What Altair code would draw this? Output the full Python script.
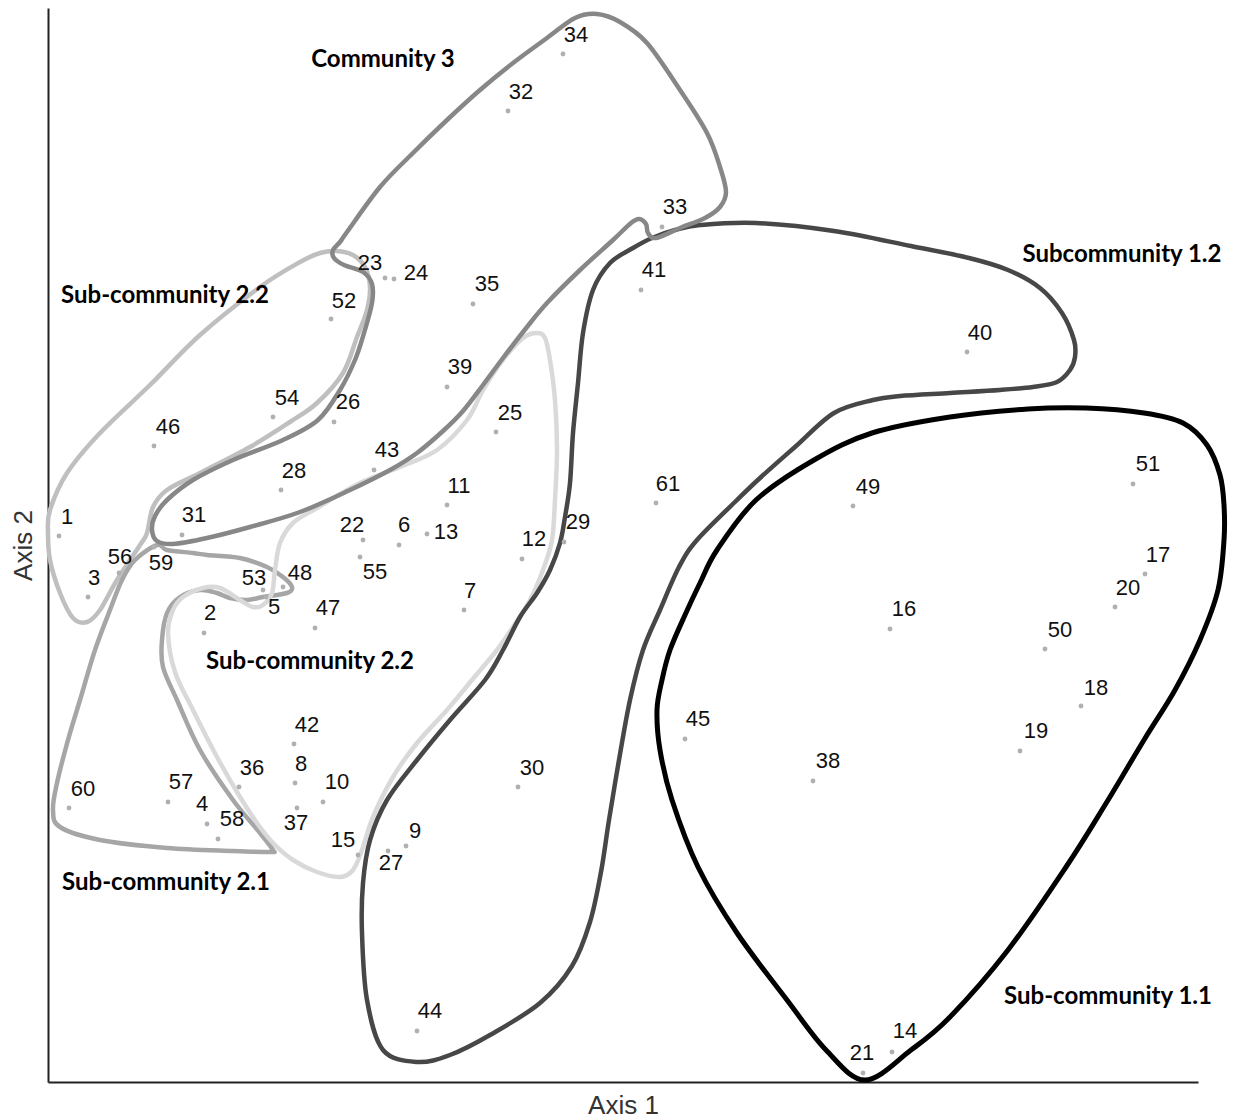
import altair as alt
import pandas as pd

# ---- sample points (positions, Axis 1 / Axis 2 units) ----
IDS = list(range(1, 62))
PX = [59, 204, 88, 207, 266, 399, 464, 295, 406, 323, 447, 522, 427, 892, 358, 890, 1145, 1081, 1020, 1115,
      863, 363, 385, 394, 496, 334, 388, 281, 564, 518, 182, 508, 662, 563, 473, 239, 297, 813, 447, 967,
      641, 294, 374, 417, 685, 154, 315, 283, 853, 1045, 1133, 331, 263, 273, 360, 119, 168, 218, 154, 69, 656]
PY = [536, 633, 597, 824, 597, 545, 610, 783, 846, 802, 505, 559, 534, 1052, 855, 629, 574, 706, 751, 607,
      1073, 540, 278, 279, 432, 422, 851, 490, 542, 787, 535, 111, 227, 54, 304, 787, 808, 781, 387, 352,
      290, 744, 470, 1031, 739, 446, 628, 587, 506, 649, 484, 319, 590, 417, 557, 573, 802, 839, 547, 808, 503]
# label anchor positions
LX = [67, 210, 94, 202, 274, 404, 470, 301, 415, 337, 459, 534, 446, 905, 343, 904, 1158, 1096, 1036, 1128,
      862, 352, 370, 416, 510, 348, 391, 294, 578, 532, 194, 521, 675, 576, 487, 252, 296, 828, 460, 980,
      654, 307, 387, 430, 698, 168, 328, 300, 868, 1060, 1148, 344, 254, 287, 375, 120, 181, 232, 161, 83, 668]
LY = [517, 613, 578, 804, 607, 525, 591, 764, 831, 782, 486, 539, 532, 1031, 840, 609, 555, 688, 731, 588,
      1053, 525, 263, 273, 413, 402, 863, 471, 522, 768, 515, 92, 207, 35, 284, 768, 823, 761, 367, 333,
      270, 725, 450, 1011, 719, 427, 608, 573, 487, 630, 464, 301, 578, 398, 572, 557, 782, 819, 563, 789, 484]

# ---- community outlines (vertices) ----
HULL_COMMUNITY_3 = [(340, 242), (347, 232), (380, 187), (413, 153), (447, 120), (480, 90), (513, 63), (547, 38),
    (575, 18), (597, 14), (620, 22), (647, 43), (680, 90), (707, 133), (720, 167), (726, 192), (720, 207),
    (705, 218), (680, 228), (656, 238), (648, 233), (646, 224), (639, 219), (631, 223), (613, 240), (580, 270),
    (547, 303), (527, 327), (503, 358), (483, 385), (463, 411), (443, 431), (417, 453), (390, 470), (350, 490),
    (300, 512), (250, 527), (207, 538), (173, 544), (157, 541), (152, 530), (155, 516), (167, 500), (193, 480),
    (233, 460), (283, 440), (318, 420), (340, 390), (355, 360), (364, 333), (372, 303), (372, 284), (363, 272),
    (344, 265), (334, 258), (333, 250)]
HULL_SUB_2_2_UPPER = [(150, 385), (200, 335), (260, 287), (300, 262), (320, 253), (337, 251), (353, 255),
    (365, 267), (370, 287), (367, 310), (357, 337), (343, 373), (317, 403), (290, 422), (250, 447), (200, 473),
    (167, 490), (153, 507), (147, 533), (140, 545), (117, 580), (100, 610), (87, 622), (73, 618), (60, 593),
    (50, 560), (48, 533), (50, 510), (67, 473), (100, 433)]
HULL_SUB_2_1 = [(157, 545), (167, 550), (193, 553), (207, 555), (240, 558), (267, 567), (283, 577), (292, 587),
    (287, 593), (263, 597), (247, 600), (230, 598), (217, 593), (200, 590), (180, 597), (167, 613), (162, 640),
    (163, 667), (177, 700), (200, 750), (233, 800), (260, 833), (273, 850), (270, 852), (233, 851), (167, 848),
    (100, 840), (60, 827), (53, 810), (57, 783), (68, 740), (80, 700), (95, 650), (110, 610), (122, 580),
    (135, 560)]
HULL_SUB_2_2_LOWER = [(537, 333), (545, 338), (550, 360), (555, 400), (557, 450), (555, 500), (552, 540),
    (543, 570), (530, 600), (513, 627), (497, 650), (472, 680), (447, 710), (417, 743), (393, 777), (373, 817),
    (362, 850), (353, 870), (340, 877), (317, 872), (293, 860), (273, 843), (257, 823), (240, 797), (217, 757),
    (193, 710), (175, 672), (168, 633), (173, 610), (183, 597), (203, 588), (220, 588), (240, 600), (253, 607),
    (263, 605), (272, 593), (275, 570), (280, 543), (293, 523), (317, 508), (360, 483), (400, 467), (437, 450),
    (467, 420), (483, 390), (503, 360), (523, 338)]
HULL_SUB_1_2 = [(633, 248), (652, 238), (675, 230), (700, 225), (756, 223), (834, 231), (911, 246), (969, 258),
    (1008, 270), (1040, 288), (1062, 313), (1074, 340), (1075, 357), (1070, 370), (1057, 382), (1033, 387),
    (1000, 390), (950, 393), (900, 396), (873, 400), (834, 413), (795, 447), (760, 478), (737, 500), (697, 540),
    (679, 567), (660, 610), (643, 650), (630, 700), (619, 760), (609, 820), (601, 872), (590, 922), (572, 966),
    (540, 1003), (490, 1035), (450, 1055), (417, 1062), (383, 1050), (367, 1000), (362, 933), (363, 883),
    (370, 840), (387, 800), (417, 760), (450, 720), (485, 680), (503, 650), (520, 617), (537, 593), (550, 570),
    (560, 543), (565, 517), (570, 483), (573, 433), (578, 383), (583, 333), (593, 290), (610, 263)]
HULL_SUB_1_1 = [(865, 1080), (826, 1050), (787, 1000), (737, 933), (698, 867), (672, 800), (660, 750), (657, 710),
    (662, 680), (670, 650), (685, 615), (700, 583), (717, 550), (756, 500), (814, 460), (872, 433), (950, 417),
    (1028, 409), (1086, 408), (1144, 413), (1183, 423), (1207, 445), (1220, 475), (1224, 505), (1224, 540),
    (1218, 590), (1200, 640), (1175, 690), (1144, 740), (1105, 805), (1066, 867), (1008, 950), (950, 1017),
    (911, 1050)]

HULLS = [
    ("Sub-community 2.2 (upper)", HULL_SUB_2_2_UPPER, "#bfbfbf", 4.5),
    ("Sub-community 2.1", HULL_SUB_2_1, "#a6a6a6", 4.5),
    ("Sub-community 2.2 (lower)", HULL_SUB_2_2_LOWER, "#d9d9d9", 4.5),
    ("Subcommunity 1.2", HULL_SUB_1_2, "#474747", 4.5),
    ("Community 3", HULL_COMMUNITY_3, "#878787", 4.5),
    ("Sub-community 1.1", HULL_SUB_1_1, "#000000", 5),
]

GROUP_NAMES = ["Community 3", "Sub-community 2.2", "Sub-community 2.2", "Sub-community 2.1",
               "Subcommunity 1.2", "Sub-community 1.1"]
GROUP_X = [383, 165, 310, 166, 1122, 1108]
GROUP_Y = [60, 296, 662, 883, 255, 997]

# ---- data tables ----
pts = pd.DataFrame({"id": [str(i) for i in IDS], "x": PX, "y": PY, "lx": LX, "ly": LY})
groups = pd.DataFrame({"name": GROUP_NAMES, "x": GROUP_X, "y": GROUP_Y})

xs = alt.Scale(domain=[48, 1198], nice=False, zero=False)
ys = alt.Scale(domain=[8, 1082], nice=False, zero=False, reverse=True)

x_axis = alt.Axis(title="Axis 1", labels=False, ticks=False, grid=False, domainColor="#222222",
                  domainWidth=2, titleFont="Liberation Sans", titleFontSize=26, titleFontWeight="normal",
                  titleColor="#333333", titlePadding=10)
y_axis = alt.Axis(title="Axis 2", labels=False, ticks=False, grid=False, domainColor="#222222",
                  domainWidth=2, titleFont="Liberation Sans", titleFontSize=26, titleFontWeight="normal",
                  titleColor="#333333", titlePadding=12)

layers = []
for name, verts, color, width in HULLS:
    df = pd.DataFrame({"hull": name, "i": list(range(len(verts))),
                       "x": [v[0] for v in verts], "y": [v[1] for v in verts]})
    layers.append(
        alt.Chart(df).mark_line(interpolate="cardinal-closed", color=color, strokeWidth=width)
        .encode(x=alt.X("x:Q", scale=xs, axis=x_axis), y=alt.Y("y:Q", scale=ys, axis=y_axis),
                order=alt.Order("i:Q"))
    )

dots = alt.Chart(pts).mark_circle(color="#b0b0b0", size=24, opacity=1).encode(
    x=alt.X("x:Q", scale=xs, axis=x_axis), y=alt.Y("y:Q", scale=ys, axis=y_axis))

labels = alt.Chart(pts).mark_text(font="Liberation Sans", fontSize=22, color="#111111",
                                  align="center", baseline="middle").encode(
    x=alt.X("lx:Q", scale=xs, axis=x_axis), y=alt.Y("ly:Q", scale=ys, axis=y_axis), text="id:N")

group_labels = alt.Chart(groups).mark_text(font="Lato", fontSize=24, fontWeight="bold", color="#000000",
                                           align="center", baseline="middle").encode(
    x=alt.X("x:Q", scale=xs, axis=x_axis), y=alt.Y("y:Q", scale=ys, axis=y_axis), text="name:N")

chart = alt.layer(*layers, dots, labels, group_labels).properties(
    width=1150, height=1074,
    autosize=alt.AutoSizeParams(type="none"),
    padding={"left": 40, "top": 0, "right": 30, "bottom": 38},
).configure_view(stroke=None)

chart.save("out.html", embed_options={"renderer": "svg", "actions": False})
